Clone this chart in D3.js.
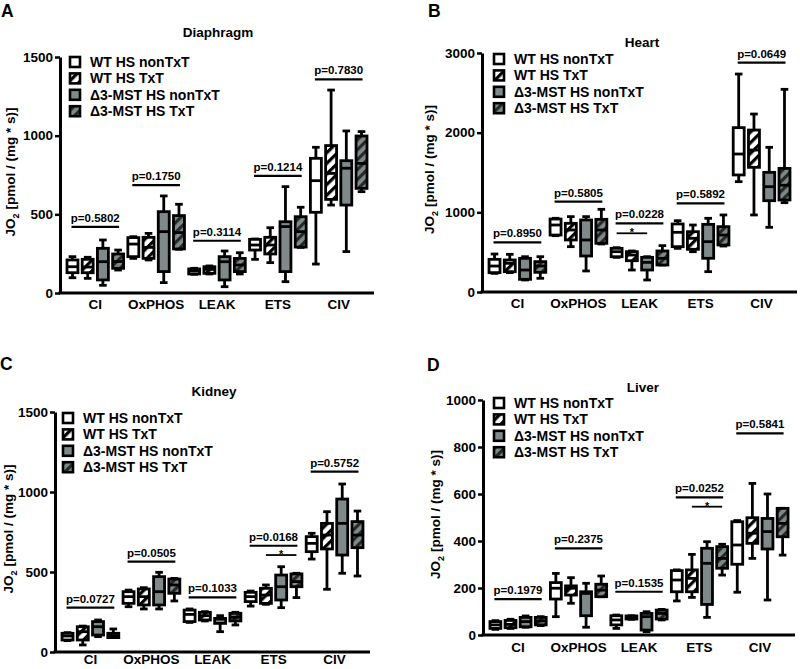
<!DOCTYPE html>
<html><head><meta charset="utf-8">
<script src="https://cdn.jsdelivr.net/npm/d3@7"></script>
<style>
body{margin:0;background:#fff}
text{font-family:"Liberation Sans",Arial,Helvetica,sans-serif;font-weight:bold;fill:#000}
</style>
</head><body>
<svg id="chart" width="800" height="669"></svg>
<script>
// ---------- DATA ----------
const categories = ["CI", "OxPHOS", "LEAK", "ETS", "CIV"];
const groups = ["WT HS nonTxT", "WT HS TxT", "\u03943-MST HS nonTxT", "\u03943-MST HS TxT"];

// five-number summaries [min, q1, median, q3, max] per category, per group
const diaphragm = [
  [[97,129,167,210,231],[93,129,165,214,227],[49,83,199,284,337],[146,157,200,248,273]],
  [[220,231,311,352,358],[210,220,290,354,379],[66,136,390,517,617],[278,280,384,492,564]],
  [[119,121,140,153,157],[121,125,150,167,172],[40,83,199,231,267],[121,136,178,220,256]],
  [[214,273,305,341,343],[193,248,305,354,415],[72,136,422,453,676],[290,292,390,485,545]],
  [[184,513,714,856,926],[559,595,760,937,1290],[263,559,793,841,1030],[644,665,824,998,1026]]
];
const heart = [
  [[234,243,326,410,477],[243,255,360,402,473],[151,159,276,423,443],[172,247,326,381,443]],
  [[707,715,841,916,925],[569,653,778,862,946],[264,452,653,904,946],[603,611,778,912,1038]],
  [[435,443,506,548,556],[276,393,464,506,515],[151,276,372,435,443],[339,339,423,515,582]],
  [[548,569,749,854,895],[506,536,674,757,841],[255,423,632,849,925],[577,590,715,820,967]],
  [[1385,1469,1732,2063,2736],[967,1565,1782,2033,2234],[812,1146,1322,1502,1816],[1121,1155,1340,1552,2544]]
];
const kidney = [
  [[71,75,100,117,121],[44,75,127,158,162],[96,106,158,190,200],[90,90,102,117,144]],
  [[283,304,346,377,387],[269,294,346,394,402],[269,294,377,471,498],[319,367,419,456,460]],
  [[185,190,235,262,269],[194,200,227,248,252],[127,179,206,210,227],[169,194,217,242,248]],
  [[287,315,346,373,381],[298,304,356,398,419],[277,325,408,481,533],[340,408,440,488,492]],
  [[581,627,679,721,742],[392,644,731,804,877],[492,606,804,956,1050],[475,652,731,815,881]]
];
const liver = [
  [[24,28,43,57,61],[28,31,45,62,67],[33,35,57,75,81],[40,43,60,75,78]],
  [[78,153,199,223,262],[135,170,199,209,244],[33,82,177,184,220],[163,163,191,216,251]],
  [[28,43,64,82,85],[67,68,74,81,82],[14,21,78,92,99],[64,68,92,106,109]],
  [[145,184,234,274,277],[160,184,241,277,343],[75,130,305,369,397],[255,284,326,376,386]],
  [[182,301,383,482,487],[326,390,433,499,645],[149,366,440,496,600],[340,418,475,539,539]]
];

// p-value labels and bracket heights per category
const diaphragmP = ["p=0.5802","p=0.1750","p=0.3114","p=0.1214","p=0.7830"];
const diaphragmPY = [420, 686, 332, 744, 1358];
const heartP = ["p=0.8950","p=0.5805","p=0.0228","p=0.5892","p=0.0649"];
const heartPY = [624, 1134, 862, 1113, 2878];
const kidneyP = ["p=0.0727","p=0.0505","p=0.1033","p=0.0168","p=0.5752"];
const kidneyPY = [277, 565, 342, 664, 1127];
const liverP = ["p=0.1979","p=0.2375","p=0.1535","p=0.0252","p=0.5841"];
const liverPY = [153, 369, 184, 586, 858];

// significance stars: [category, fromGroup, toGroup, height]
const heartStar = ["LEAK", 0, 2, 737];
const kidneyStar = ["ETS", 1, 3, 606];
const liverStar = ["ETS", 1, 3, 546];

// y-axis tick values
const ticks1500 = [0, 500, 1000, 1500];
const ticks3000 = [0, 1000, 2000, 3000];
const ticks1000 = [0, 200, 400, 600, 800, 1000];

// ---------- DRAW ----------
const svg = d3.select("#chart");
const GRAY = "#7f8989", DARK = "#262828", INK = "#000";

const defs = svg.append("defs");
const p1 = defs.append("pattern").attr("id","hatchW").attr("patternUnits","userSpaceOnUse")
  .attr("width",7.5).attr("height",7.5).attr("patternTransform","rotate(45)");
p1.append("rect").attr("width",7.5).attr("height",7.5).attr("fill","#fff");
p1.append("rect").attr("x",0).attr("width",3.2).attr("height",7.5).attr("fill",INK);
const p2 = defs.append("pattern").attr("id","hatchG").attr("patternUnits","userSpaceOnUse")
  .attr("width",7).attr("height",7).attr("patternTransform","rotate(45)");
p2.append("rect").attr("width",7).attr("height",7).attr("fill",GRAY);
p2.append("rect").attr("x",0).attr("width",3.2).attr("height",7).attr("fill",DARK);

const fills = ["#fff", "url(#hatchW)", GRAY, "url(#hatchG)"];

const panels = [
  {letter:"A", lx:1, ly:17, title:"Diaphragm", tx:218, ty:37, data:diaphragm, pl:diaphragmP, py:diaphragmPY, star:null,
   ticks:ticks1500, ax:60, xe:374, yt:57, yb:293, ylx:15, legX:69, legY:62, catDy:16},
  {letter:"B", lx:428, ly:17, title:"Heart", tx:642, ty:47, data:heart, pl:heartP, py:heartPY, star:heartStar,
   ticks:ticks3000, ax:482, xe:797, yt:53, yb:292, ylx:434, legX:493, legY:59, catDy:16},
  {letter:"C", lx:0, ly:370, title:"Kidney", tx:214, ty:396, data:kidney, pl:kidneyP, py:kidneyPY, star:kidneyStar,
   ticks:ticks1500, ax:55, xe:370, yt:412, yb:652, ylx:13, legX:62, legY:418, catDy:12},
  {letter:"D", lx:427, ly:371, title:"Liver", tx:643, ty:392, data:liver, pl:liverP, py:liverPY, star:liverStar,
   ticks:ticks1000, ax:483, xe:795, yt:400, yb:635, ylx:440, legX:493, legY:403, catDy:17}
];

panels.forEach(P => {
  const g = svg.append("g");
  const y = d3.scaleLinear().domain([0, d3.max(P.ticks)]).range([P.yb, P.yt]);
  const x = d3.scaleBand().domain(categories).range([P.ax, P.xe]).paddingInner(0).paddingOuter(0.08);
  const xi = d3.scaleBand().domain(d3.range(groups.length)).range([0, x.bandwidth()])
    .paddingInner(0.28).paddingOuter(0.14);
  const bw = xi.bandwidth();
  const cx = (c, i) => x(c) + xi(i) + bw / 2;

  // panel letter and title
  g.append("text").attr("x", P.lx).attr("y", P.ly).attr("font-size", 17.5).text(P.letter);
  g.append("text").attr("x", P.tx).attr("y", P.ty).attr("text-anchor","middle").attr("font-size", 13.5).text(P.title);

  // y axis
  const yAxis = g.append("g").attr("transform", `translate(${P.ax},0)`)
    .call(d3.axisLeft(y).tickValues(P.ticks).tickSize(5).tickPadding(2).tickSizeOuter(0).tickFormat(d3.format("d")));
  yAxis.select(".domain").attr("stroke",INK).attr("stroke-width",3);
  yAxis.selectAll(".tick line").attr("stroke",INK).attr("stroke-width",2.5);
  yAxis.selectAll(".tick text").attr("font-size",13.5).attr("font-family",null).attr("fill",INK);

  // x axis (no ticks)
  const xAxis = g.append("g").attr("transform", `translate(0,${P.yb})`)
    .call(d3.axisBottom(x).tickSize(0).tickSizeOuter(0).tickPadding(P.catDy - 10));
  xAxis.select(".domain").attr("stroke",INK).attr("stroke-width",3)
    .attr("d", `M${P.ax - 1.5},0H${P.xe}`);
  xAxis.selectAll(".tick text").attr("font-size",13.5).attr("font-family",null).attr("fill",INK);

  // y label
  const yl = g.append("text").attr("text-anchor","middle").attr("font-size",13.5)
    .attr("transform", `translate(${P.ylx},${(P.yt + P.yb) / 2 - 3}) rotate(-90)`);
  yl.append("tspan").text("JO");
  yl.append("tspan").attr("font-size",9).attr("dy",4).text("2");
  yl.append("tspan").attr("dy",-4).text(" [pmol / (mg * s)]");

  // boxes
  categories.forEach((c, ci) => {
    P.data[ci].forEach((s, gi) => {
      const [mn, q1, md, q3, mx] = s;
      const xc = cx(c, gi), x0 = xc - bw / 2;
      const bg = g.append("g").attr("stroke",INK).attr("stroke-width",2.8).attr("fill","none");
      bg.append("line").attr("x1",xc).attr("x2",xc).attr("y1",y(mx)).attr("y2",y(q3));
      bg.append("line").attr("x1",xc).attr("x2",xc).attr("y1",y(q1)).attr("y2",y(mn));
      bg.append("line").attr("x1",xc-3.8).attr("x2",xc+3.8).attr("y1",y(mx)).attr("y2",y(mx));
      bg.append("line").attr("x1",xc-3.8).attr("x2",xc+3.8).attr("y1",y(mn)).attr("y2",y(mn));
      bg.append("rect").attr("x",x0).attr("width",bw).attr("y",y(q3))
        .attr("height",Math.max(1, y(q1) - y(q3))).attr("fill",fills[gi]);
      bg.append("line").attr("x1",x0).attr("x2",x0+bw).attr("y1",y(md)).attr("y2",y(md));
    });
    // p-value bracket
    const by = y(P.py[ci]);
    const bx0 = cx(c, 0) - 1, bx1 = cx(c, 3) + 1;
    g.append("line").attr("x1",bx0).attr("x2",bx1).attr("y1",by).attr("y2",by)
      .attr("stroke",INK).attr("stroke-width",2.2);
    g.append("text").attr("x",(bx0+bx1)/2).attr("y",by-5).attr("text-anchor","middle")
      .attr("font-size",11.5).text(P.pl[ci]);
  });

  // star bracket
  if (P.star) {
    const [c, a, b, v] = P.star;
    const sy = y(v), sx0 = cx(c, a), sx1 = cx(c, b);
    g.append("line").attr("x1",sx0).attr("x2",sx1).attr("y1",sy).attr("y2",sy)
      .attr("stroke",INK).attr("stroke-width",1.8);
    g.append("text").attr("x",(sx0+sx1)/2).attr("y",sy+3).attr("text-anchor","middle")
      .attr("font-size",11).text("*");
  }

  // legend
  groups.forEach((name, gi) => {
    const ry = P.legY + gi * 16.4;
    g.append("rect").attr("x",P.legX+1).attr("y",ry-5).attr("width",10).attr("height",10)
      .attr("fill",fills[gi]).attr("stroke",INK).attr("stroke-width",2.6);
    g.append("text").attr("x",P.legX+21).attr("y",ry+5).attr("font-size",14).text(name);
  });
});
</script>
</body></html>
